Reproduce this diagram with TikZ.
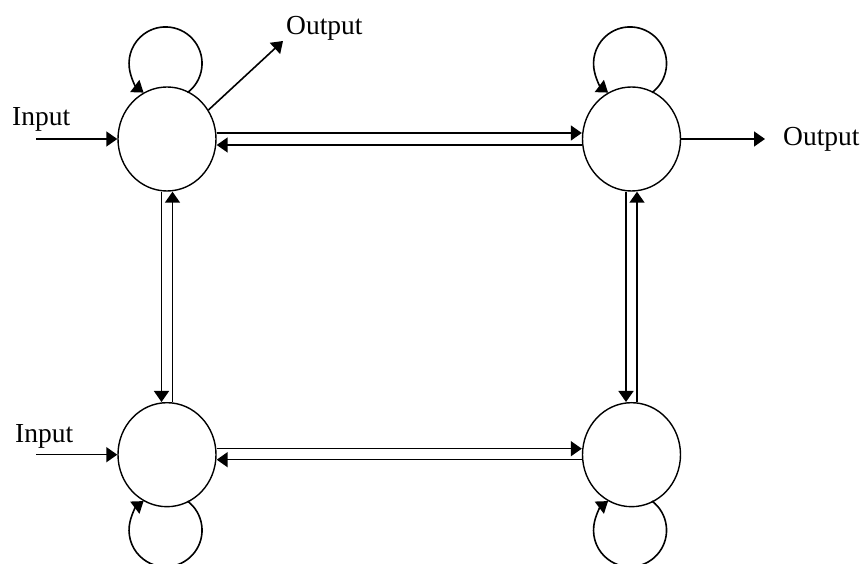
\documentclass[tikz,border=0pt]{standalone}
\usepackage{fontspec}
\setmainfont{Liberation Serif}
\usetikzlibrary{arrows.meta,shapes.geometric}
\begin{document}
\begin{tikzpicture}[x=1pt,y=1pt,
  state/.style={ellipse,draw,line width=1.4pt,minimum width=98pt,minimum height=104pt,inner sep=0pt},
  link/.style={line width=1.6pt,-{Triangle[length=11pt,width=15pt]}},
  lbl/.style={font=\fontsize{27.5}{30}\selectfont,inner sep=0pt,anchor=base west}]
\useasboundingbox (0,0) rectangle (862,564);

% the four states
\node[state] (tl) at (167,425) {};
\node[state] (tr) at (631.5,425) {};
\node[state] (bl) at (167,109.3) {};
\node[state] (br) at (631.5,109.3) {};

% free ends of the input and output arrows
\coordinate (in1) at (36,425);
\coordinate (in2) at (36,109.3);
\coordinate (out1) at (283,523);
\coordinate (out2) at (765,425);

% labels
\node[lbl] (lin1) at (12,438) {Input};
\node[lbl] (lin2) at (15,121) {Input};
\node[lbl] (lout1) at (286,529) {Output};
\node[lbl] (lout2) at (783,418) {Output};

% inputs and outputs
\draw[link] (in1) -- (tl.west);
\draw[link] (in2) -- (bl.west);
\draw[link] (tl.35) -- (out1);
\draw[link] (tr.east) -- (out2);

% horizontal pairs
\draw[link] ([yshift=6pt]tl.east) -- ([yshift=6pt]tr.west);
\draw[link] ([yshift=-6pt]tr.west) -- ([yshift=-6pt]tl.east);
\draw[link] ([yshift=6pt]bl.east) -- ([yshift=6pt]br.west);
\draw[link] ([yshift=-5pt]br.west) -- ([yshift=-5pt]bl.east);

% vertical pairs
\draw[link] ([xshift=-5.5pt]tl.south) -- ([xshift=-5.5pt]bl.north);
\draw[link] ([xshift=5.5pt]bl.north) -- ([xshift=5.5pt]tl.south);
\draw[link] ([xshift=-5.5pt]tr.south) -- ([xshift=-5.5pt]br.north);
\draw[link] ([xshift=5.5pt]br.north) -- ([xshift=5.5pt]tr.south);

% self loops
\draw[link] ([shift={(20.5,46.4)}]tl.center) arc[start angle=-53,end angle=233,radius=36.5];
\draw[link] ([shift={(20.5,46.4)}]tr.center) arc[start angle=-53,end angle=233,radius=36.5];
\draw[link] ([shift={(20.5,-46.4)}]bl.center) arc[start angle=53,end angle=-233,radius=36.5];
\draw[link] ([shift={(20.5,-46.4)}]br.center) arc[start angle=53,end angle=-233,radius=36.5];
\end{tikzpicture}
\end{document}
